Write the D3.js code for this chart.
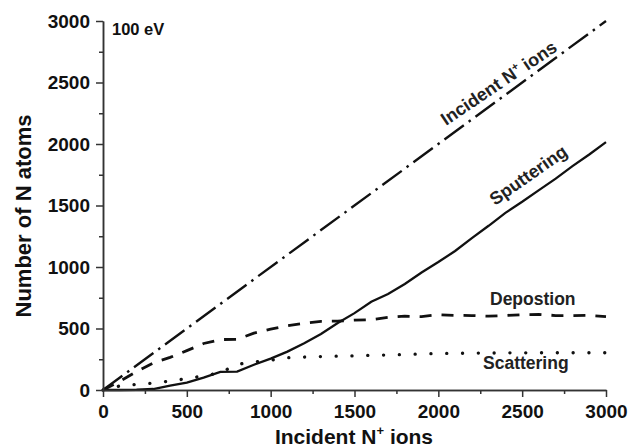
<!DOCTYPE html>
<html>
<head>
<meta charset="utf-8">
<script src="https://cdn.jsdelivr.net/npm/d3@7"></script>
<style>
  body { margin: 0; background: #fff; }
  svg text { font-family: "Liberation Sans", Arial, sans-serif; font-weight: bold; }
</style>
</head>
<body>
<svg id="chart" width="629" height="447"></svg>
<script>
// data (incident ions -> atoms)
const ions = [0, 100, 200, 300, 400, 500, 600, 700, 800, 900, 1000,
  1100, 1200, 1300, 1400, 1500, 1600, 1700, 1800, 1900, 2000,
  2100, 2200, 2300, 2400, 2500, 2600, 2700, 2800, 2900, 3000];
const sputtering = [0, 0, 2, 8, 35, 60, 100, 147, 150, 205, 255,
  312, 380, 455, 545, 625, 718, 780, 862, 955, 1040,
  1130, 1235, 1335, 1440, 1530, 1625, 1718, 1820, 1915, 2015];
const deposition = [0, 70, 150, 220, 265, 320, 378, 410, 412, 462, 495,
  522, 542, 558, 560, 568, 572, 590, 600, 597, 612,
  607, 605, 600, 606, 612, 615, 605, 605, 607, 597];
const scattering = [0, 33, 46, 55, 73, 92, 115, 140, 208, 228, 242,
  262, 268, 272, 275, 278, 282, 285, 288, 293, 297,
  298, 300, 300, 302, 302, 303, 303, 303, 303, 303];
const incidentX = [0, 3000];
const incidentY = [0, 3000];

const majorTicks = [0, 500, 1000, 1500, 2000, 2500, 3000];
const minorTicks = [250, 750, 1250, 1750, 2250, 2750];

const svg = d3.select("#chart");
const x = d3.scaleLinear().domain([0, 3000]).range([103, 606]);
const y = d3.scaleLinear().domain([0, 3000]).range([390, 21]);

function series(xs, ys) {
    return xs.map((d, i) => [d, ys[i]]);
}

const line = d3.line().x(d => x(d[0])).y(d => y(d[1]));

// curves
svg.append("path")
    .attr("d", line(series(incidentX, incidentY)))
    .attr("fill", "none").attr("stroke", "#111").attr("stroke-width", 2.4)
    .attr("stroke-dasharray", "24,6,2.5,6");

svg.append("path")
    .attr("d", line(series(ions, deposition)))
    .attr("fill", "none").attr("stroke", "#111").attr("stroke-width", 2.8)
    .attr("stroke-dasharray", "12,10");

svg.append("path")
    .attr("d", line(series(ions, scattering)))
    .attr("fill", "none").attr("stroke", "#111").attr("stroke-width", 3.3)
    .attr("stroke-linecap", "round")
    .attr("stroke-dasharray", "0.1,15.7");

svg.append("path")
    .attr("d", line(series(ions, sputtering)))
    .attr("fill", "none").attr("stroke", "#111").attr("stroke-width", 2.3);

// axes
function styleAxis(g) {
    g.selectAll("path, line").attr("stroke", "#333").attr("stroke-width", 1.5);
    g.selectAll("text")
        .attr("fill", "#111")
        .style("font-size", "19px")
        .style("font-family", "'Liberation Sans', Arial, sans-serif")
        .style("font-weight", "bold");
}

const fmt = d3.format("d");

svg.append("g")
    .attr("transform", "translate(0,390)")
    .call(d3.axisBottom(x).tickValues(minorTicks).tickSize(4).tickSizeOuter(0).tickFormat(""))
    .call(styleAxis);
svg.append("g")
    .attr("transform", "translate(0,390)")
    .call(d3.axisBottom(x).tickValues(majorTicks).tickSize(7).tickSizeOuter(0).tickPadding(8).tickFormat(fmt))
    .call(styleAxis);

svg.append("g")
    .attr("transform", "translate(103,0)")
    .call(d3.axisLeft(y).tickValues(minorTicks).tickSize(4).tickSizeOuter(0).tickFormat(""))
    .call(styleAxis);
svg.append("g")
    .attr("transform", "translate(103,0)")
    .call(d3.axisLeft(y).tickValues(majorTicks).tickSize(7).tickSizeOuter(0).tickPadding(6).tickFormat(fmt))
    .call(styleAxis);

// axis titles
const xt = svg.append("text")
    .attr("x", 354).attr("y", 444)
    .attr("text-anchor", "middle")
    .attr("fill", "#111")
    .style("font-size", "21px");
xt.append("tspan").text("Incident N");
xt.append("tspan").attr("dy", -9).style("font-size", "13px").text("+");
xt.append("tspan").attr("dy", 9).text(" ions");

svg.append("text")
    .attr("transform", "translate(31,216) rotate(-90)")
    .attr("text-anchor", "middle")
    .attr("fill", "#111")
    .style("font-size", "22px")
    .text("Number of N atoms");

// annotations
svg.append("text")
    .attr("x", 112).attr("y", 35)
    .attr("fill", "#111")
    .style("font-size", "16.5px")
    .text("100 eV");

const inc = svg.append("text")
    .attr("transform", "translate(446,126) rotate(-34)")
    .attr("fill", "#222")
    .style("font-size", "18px");
inc.append("tspan").text("Incident N");
inc.append("tspan").attr("dy", -7).style("font-size", "11px").text("+");
inc.append("tspan").attr("dy", 7).text(" ions");

svg.append("text")
    .attr("transform", "translate(495,206) rotate(-35)")
    .attr("fill", "#222")
    .style("font-size", "18px")
    .text("Sputtering");

svg.append("text")
    .attr("x", 490).attr("y", 305)
    .attr("fill", "#222")
    .style("font-size", "17.5px")
    .text("Depostion");

svg.append("text")
    .attr("x", 483).attr("y", 369)
    .attr("fill", "#222")
    .style("font-size", "17.5px")
    .text("Scattering");
</script>
</body>
</html>
